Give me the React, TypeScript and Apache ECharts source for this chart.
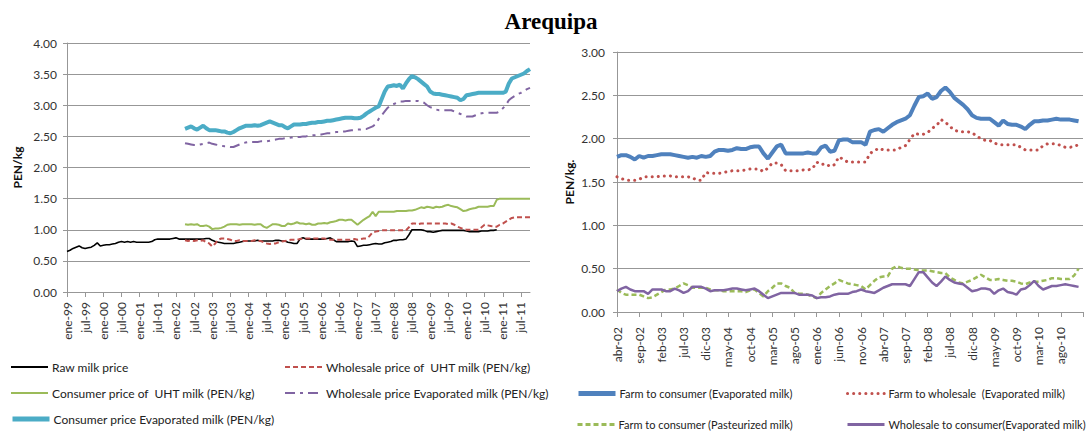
import React, { useEffect, useRef } from "react";
import * as echarts from "echarts";

const MONTHS = ["ene", "feb", "mar", "abr", "may", "jun", "jul", "ago", "sep", "oct", "nov", "dic"];

// Left chart: monthly, ene-99 .. oct-11 (154 months)
const LEFT_START_YEAR = 1999;
const LEFT_COUNT = 154;
// Right chart: monthly, abr-02 .. ene-11 (106 months)
const RIGHT_START_YEAR = 2002;
const RIGHT_START_MONTH = 3;
const RIGHT_COUNT = 106;

const N = null;
const pad = (n: number) => Array(n).fill(null);

// ---------- Left chart series (PEN/kg) ----------
const rawMilk = [
  0.65, 0.67, 0.70, 0.72, 0.74, 0.71, 0.70, 0.71, 0.72, 0.75, 0.79, 0.74, // 1999
  0.75, 0.76, 0.76, 0.77, 0.78, 0.80, 0.81, 0.80, 0.81, 0.80, 0.81, 0.80, // 2000
  0.80, 0.80, 0.80, 0.80, 0.81, 0.84, 0.85, 0.85, 0.85, 0.85, 0.85, 0.86, // 2001
  0.87, 0.85, 0.85, 0.85, 0.85, 0.85, 0.85, 0.85, 0.85, 0.85, 0.86, 0.86, // 2002
  0.83, 0.81, 0.80, 0.79, 0.78, 0.78, 0.78, 0.78, 0.79, 0.80, 0.81, 0.82, // 2003
  0.82, 0.82, 0.82, 0.83, 0.82, 0.82, 0.82, 0.82, 0.82, 0.83, 0.83, 0.82, // 2004
  0.82, 0.80, 0.79, 0.78, 0.78, 0.85, 0.87, 0.85, 0.85, 0.85, 0.85, 0.85, // 2005
  0.85, 0.85, 0.86, 0.87, 0.84, 0.81, 0.81, 0.81, 0.81, 0.81, 0.82, 0.81, // 2006
  0.73, 0.74, 0.75, 0.75, 0.76, 0.77, 0.78, 0.77, 0.77, 0.79, 0.80, 0.81, // 2007
  0.83, 0.83, 0.84, 0.84, 0.85, 0.92, 1.00, 1.00, 1.00, 1.00, 0.99, 0.97, // 2008
  0.97, 0.96, 0.97, 0.98, 0.99, 0.99, 0.99, 0.99, 0.99, 0.99, 0.99, 0.99, // 2009
  0.98, 0.97, 0.97, 0.97, 0.97, 0.98, 0.98, 0.98, 0.99, 0.99, 1.00, N,    // 2010
  N, N, N, N, N, N, N, N, N, N,                                           // 2011
];

const wholesaleUHT = [
  ...pad(36),
  N, N, N, 0.83, 0.82, 0.83, 0.82, 0.83, 0.82, 0.83, 0.80, 0.78,           // 2002
  0.73, 0.78, 0.84, 0.86, 0.86, 0.85, 0.84, 0.82, 0.82, 0.83, 0.82, 0.82, // 2003
  0.82, 0.82, 0.83, 0.82, 0.82, 0.80, 0.78, 0.77, 0.78, 0.78, 0.80, 0.81, // 2004
  0.82, 0.83, 0.84, 0.84, 0.84, 0.85, 0.86, 0.86, 0.86, 0.86, 0.86, 0.86, // 2005
  0.86, 0.86, 0.85, 0.84, 0.84, 0.84, 0.84, 0.84, 0.84, 0.84, 0.84, 0.85, // 2006
  0.84, 0.85, 0.86, 0.86, 0.90, 0.96, 0.97, 0.98, 0.99, 0.99, 0.99, 0.99, // 2007
  0.99, 0.99, 0.99, 0.99, 0.99, 1.04, 1.10, 1.10, 1.09, 1.10, 1.10, 1.10, // 2008
  1.10, 1.10, 1.10, 1.10, 1.10, 1.10, 1.09, 1.10, 1.08, 1.05, 1.03, 1.01, // 2009
  1.00, 1.00, 1.00, 1.00, 1.00, 1.04, 1.08, 1.07, 1.06, 1.05, 1.05, 1.08, // 2010
  1.10, 1.13, 1.16, 1.19, 1.20, 1.20, 1.20, 1.20, 1.20, 1.20,             // 2011
];

const consumerUHT = [
  ...pad(36),
  N, N, N, 1.09, 1.08, 1.09, 1.08, 1.09, 1.06, 1.06, 1.07, 1.05,           // 2002
  1.01, 1.02, 1.02, 1.03, 1.05, 1.08, 1.09, 1.09, 1.09, 1.08, 1.09, 1.09, // 2003
  1.09, 1.09, 1.08, 1.09, 1.09, 1.05, 1.03, 1.06, 1.09, 1.09, 1.08, 1.06, // 2004
  1.06, 1.10, 1.09, 1.10, 1.12, 1.10, 1.10, 1.09, 1.10, 1.08, 1.08, 1.10, // 2005
  1.10, 1.11, 1.10, 1.12, 1.13, 1.14, 1.16, 1.16, 1.15, 1.16, 1.16, 1.12, // 2006
  1.08, 1.12, 1.16, 1.19, 1.22, 1.29, 1.22, 1.29, 1.29, 1.29, 1.29, 1.29, // 2007
  1.29, 1.30, 1.30, 1.30, 1.30, 1.31, 1.31, 1.32, 1.34, 1.36, 1.35, 1.37, // 2008
  1.36, 1.35, 1.37, 1.36, 1.37, 1.39, 1.40, 1.38, 1.37, 1.36, 1.33, 1.30, // 2009
  1.31, 1.33, 1.34, 1.35, 1.37, 1.37, 1.37, 1.37, 1.38, 1.38, 1.48, 1.50, // 2010
  1.50, 1.50, 1.50, 1.50, 1.50, 1.50, 1.50, 1.50, 1.50, 1.50,             // 2011
];

const wholesaleEvap = [
  ...pad(36),
  N, N, N, 2.39, 2.38, 2.37, 2.36, 2.36, 2.37, 2.38, 2.39, 2.40,           // 2002
  2.38, 2.37, 2.36, 2.35, 2.34, 2.34, 2.33, 2.33, 2.35, 2.37, 2.39, 2.40, // 2003
  2.41, 2.41, 2.41, 2.41, 2.42, 2.42, 2.42, 2.43, 2.44, 2.45, 2.46, 2.46, // 2004
  2.47, 2.47, 2.48, 2.48, 2.49, 2.49, 2.50, 2.50, 2.51, 2.52, 2.52, 2.53, // 2005
  2.53, 2.54, 2.55, 2.55, 2.56, 2.57, 2.57, 2.58, 2.58, 2.59, 2.60, 2.60, // 2006
  2.61, 2.61, 2.62, 2.62, 2.64, 2.66, 2.70, 2.78, 2.84, 2.90, 2.96, 3.00, // 2007
  3.02, 3.04, 3.06, 3.06, 3.07, 3.07, 3.07, 3.07, 3.07, 3.06, 3.04, 3.00, // 2008
  2.97, 2.95, 2.93, 2.92, 2.92, 2.92, 2.92, 2.92, 2.90, 2.88, 2.86, 2.84, // 2009
  2.82, 2.82, 2.82, 2.84, 2.86, 2.87, 2.88, 2.88, 2.88, 2.88, 2.88, 2.90, // 2010
  2.95, 3.00, 3.08, 3.12, 3.15, 3.18, 3.20, 3.23, 3.26, 3.28,             // 2011
];

const consumerEvap = [
  ...pad(36),
  N, N, N, 2.62, 2.64, 2.66, 2.63, 2.61, 2.64, 2.67, 2.63, 2.60,           // 2002
  2.60, 2.60, 2.59, 2.58, 2.58, 2.56, 2.55, 2.57, 2.60, 2.63, 2.65, 2.67, // 2003
  2.67, 2.67, 2.68, 2.67, 2.68, 2.70, 2.72, 2.74, 2.72, 2.70, 2.68, 2.68, // 2004
  2.65, 2.63, 2.66, 2.69, 2.69, 2.69, 2.70, 2.70, 2.71, 2.72, 2.72, 2.73, // 2005
  2.73, 2.74, 2.75, 2.75, 2.76, 2.77, 2.78, 2.79, 2.80, 2.80, 2.80, 2.79, // 2006
  2.79, 2.80, 2.83, 2.87, 2.90, 2.93, 2.96, 2.98, 3.10, 3.22, 3.30, 3.31, // 2007
  3.32, 3.31, 3.33, 3.27, 3.35, 3.42, 3.47, 3.45, 3.42, 3.38, 3.34, 3.30, // 2008
  3.22, 3.19, 3.18, 3.18, 3.17, 3.16, 3.15, 3.14, 3.13, 3.12, 3.08, 3.10, // 2009
  3.16, 3.17, 3.18, 3.19, 3.20, 3.20, 3.20, 3.20, 3.20, 3.20, 3.20, 3.20, // 2010
  3.20, 3.22, 3.35, 3.43, 3.45, 3.47, 3.49, 3.51, 3.55, 3.58,             // 2011
];

// ---------- Right chart series (PEN/kg.), abr-02 onwards ----------
const farmToConsumerEvap = [
  1.79, 1.81, 1.81, 1.79, 1.76, 1.80, 1.78, 1.80, 1.80, 1.81,
  1.82, 1.82, 1.82, 1.81, 1.80, 1.79, 1.78, 1.79, 1.78, 1.80,
  1.79, 1.80, 1.85, 1.87, 1.87, 1.86, 1.87, 1.89, 1.88, 1.88,
  1.90, 1.91, 1.91, 1.83, 1.77, 1.84, 1.91, 1.93, 1.83, 1.83,
  1.83, 1.83, 1.83, 1.84, 1.83, 1.83, 1.90, 1.92, 1.85, 1.86,
  1.98, 1.99, 1.99, 1.96, 1.96, 1.96, 1.93, 2.08, 2.10, 2.11,
  2.08, 2.12, 2.16, 2.19, 2.21, 2.23, 2.27, 2.38, 2.48, 2.49,
  2.52, 2.46, 2.48, 2.55, 2.59, 2.54, 2.47, 2.43, 2.39, 2.34,
  2.27, 2.24, 2.23, 2.23, 2.23, 2.19, 2.15, 2.21, 2.17, 2.16,
  2.16, 2.14, 2.11, 2.16, 2.20, 2.20, 2.21, 2.21, 2.22, 2.23,
  2.22, 2.22, 2.22, 2.21, 2.20, N,
];

const farmToWholesaleEvap = [
  1.56, 1.54, 1.52, 1.52, 1.52, 1.53, 1.56, 1.56, 1.56, 1.56,
  1.57, 1.57, 1.57, 1.56, 1.56, 1.56, 1.56, 1.55, 1.52, 1.52,
  1.61, 1.60, 1.60, 1.60, 1.61, 1.62, 1.63, 1.63, 1.63, 1.64,
  1.65, 1.65, 1.65, 1.62, 1.66, 1.72, 1.72, 1.70, 1.63, 1.63,
  1.63, 1.63, 1.64, 1.64, 1.65, 1.73, 1.70, 1.71, 1.68, 1.70,
  1.79, 1.76, 1.73, 1.73, 1.73, 1.73, 1.73, 1.83, 1.86, 1.89,
  1.87, 1.87, 1.87, 1.87, 1.90, 1.92, 1.99, 2.06, 2.05, 2.05,
  2.07, 2.12, 2.15, 2.22, 2.19, 2.14, 2.10, 2.08, 2.08, 2.08,
  2.07, 2.03, 2.00, 1.98, 1.98, 1.95, 1.93, 1.93, 1.93, 1.93,
  1.93, 1.90, 1.87, 1.87, 1.87, 1.87, 1.92, 1.94, 1.94, 1.94,
  1.92, 1.90, 1.90, 1.91, 1.93, N,
];

const farmToConsumerPast = [
  0.26, 0.22, 0.20, 0.20, 0.20, 0.20, 0.18, 0.16, 0.17, 0.20,
  0.23, 0.26, 0.26, 0.27, 0.30, 0.33, 0.31, 0.28, 0.28, 0.28,
  0.28, 0.26, 0.25, 0.25, 0.24, 0.24, 0.24, 0.24, 0.24, 0.23,
  0.25, 0.26, 0.22, 0.18, 0.24, 0.28, 0.33, 0.33, 0.30, 0.28,
  0.22, 0.21, 0.21, 0.20, 0.18, 0.16, 0.22, 0.26, 0.30, 0.33,
  0.37, 0.35, 0.33, 0.32, 0.31, 0.30, 0.26, 0.31, 0.36, 0.40,
  0.41, 0.41, 0.50, 0.53, 0.51, 0.50, 0.50, 0.49, 0.48, 0.48,
  0.48, 0.47, 0.46, 0.45, 0.45, 0.40, 0.37, 0.34, 0.33, 0.35,
  0.37, 0.40, 0.43, 0.40, 0.37, 0.37, 0.38, 0.37, 0.36, 0.36,
  0.35, 0.33, 0.32, 0.34, 0.35, 0.35, 0.36, 0.37, 0.39, 0.39,
  0.38, 0.38, 0.38, 0.42, 0.50, N,
];

const wholesaleToConsumerEvap = [
  0.24, 0.27, 0.29, 0.26, 0.24, 0.24, 0.24, 0.21, 0.26, 0.26,
  0.26, 0.24, 0.24, 0.27, 0.25, 0.22, 0.24, 0.29, 0.29, 0.29,
  0.27, 0.24, 0.25, 0.25, 0.25, 0.26, 0.27, 0.27, 0.26, 0.25,
  0.26, 0.27, 0.24, 0.20, 0.16, 0.18, 0.20, 0.22, 0.22, 0.22,
  0.22, 0.20, 0.20, 0.20, 0.19, 0.16, 0.17, 0.17, 0.18, 0.20,
  0.21, 0.21, 0.21, 0.23, 0.24, 0.26, 0.24, 0.23, 0.22, 0.25,
  0.28, 0.30, 0.32, 0.32, 0.32, 0.32, 0.30, 0.38, 0.46, 0.46,
  0.40, 0.34, 0.30, 0.35, 0.41, 0.37, 0.34, 0.33, 0.32, 0.28,
  0.24, 0.25, 0.27, 0.27, 0.26, 0.21, 0.25, 0.27, 0.23, 0.22,
  0.20, 0.26, 0.27, 0.31, 0.36, 0.30, 0.26, 0.28, 0.30, 0.30,
  0.31, 0.32, 0.31, 0.30, 0.29, N,
];

const leftCategories = Array.from({ length: LEFT_COUNT }, (_, i) => {
  const y = LEFT_START_YEAR + Math.floor(i / 12);
  return MONTHS[i % 12] + "-" + String(y % 100).padStart(2, "0");
});
const rightCategories = Array.from({ length: RIGHT_COUNT }, (_, i) => {
  const k = RIGHT_START_MONTH + i;
  const y = RIGHT_START_YEAR + Math.floor(k / 12);
  return MONTHS[k % 12] + "-" + String(y % 100).padStart(2, "0");
});

const GRID_COLOR = "#979797";
const LABEL_COLOR = "#333";
const FONT = "Lato, 'Open Sans', sans-serif";

export default function App() {
  const ref = useRef<HTMLDivElement>(null);

  useEffect(() => {
    if (!ref.current) return;
    const chart = echarts.init(ref.current, null, { renderer: "svg" });

    const yAxisCommon = {
      type: "value" as const,
      min: 0,
      interval: 0.5,
      axisLine: { show: true, lineStyle: { color: GRID_COLOR, width: 1 } },
      axisTick: { show: true, length: 4, lineStyle: { color: GRID_COLOR } },
      splitLine: { show: true, lineStyle: { color: GRID_COLOR, width: 1 } },
      axisLabel: {
        formatter: (v: number) => v.toFixed(2),
        fontSize: 12,
        color: LABEL_COLOR,
        fontFamily: FONT,
        margin: 10,
      },
      nameLocation: "middle" as const,
      nameRotate: 90,
      nameTextStyle: { fontSize: 12, fontWeight: "bold" as const, color: "#111", fontFamily: FONT },
    };

    const xAxisCommon = {
      type: "category" as const,
      boundaryGap: false,
      axisLine: { show: true, lineStyle: { color: GRID_COLOR, width: 1 } },
      splitLine: { show: false },
    };

    const lineSeries = (name: string, data: any[], color: string, width: number, type: any, idx: number, cap = "butt") => ({
      name,
      type: "line" as const,
      data,
      xAxisIndex: idx,
      yAxisIndex: idx,
      symbol: "none",
      showSymbol: false,
      connectNulls: false,
      itemStyle: { color },
      lineStyle: { color, width, type, cap },
    });

    const legendItem = (name: string, left: number, top: number, width: number, fontSize: number, cap = "butt") => ({
      show: true,
      data: [name],
      left,
      top,
      orient: "horizontal" as const,
      itemWidth: 37,
      itemHeight: 10,
      padding: 0,
      selectedMode: false,
      itemStyle: { opacity: 0, borderWidth: 0 },
      lineStyle: { width, cap },
      textStyle: { fontSize, color: "#222", fontFamily: FONT, padding: [0, 0, 0, -1] },
    });

    chart.setOption({
      animation: false,
      backgroundColor: "#fff",
      title: {
        text: "Arequipa",
        left: 546,
        textAlign: "center",
        top: 5,
        textStyle: { fontFamily: "'Liberation Serif', 'Times New Roman', serif", fontWeight: "bold", fontSize: 23, color: "#000" },
      },
      grid: [
        { left: 67, top: 43, width: 463, height: 249 },
        { left: 617, top: 52, width: 466, height: 260 },
      ],
      xAxis: [
        {
          ...xAxisCommon,
          gridIndex: 0,
          data: leftCategories,
          axisTick: { show: true, interval: 5, length: 5, lineStyle: { color: GRID_COLOR } },
          axisLabel: { interval: 5, rotate: 90, fontSize: 12, color: LABEL_COLOR, fontFamily: FONT, margin: 10 },
        },
        {
          ...xAxisCommon,
          gridIndex: 1,
          data: rightCategories,
          axisTick: { show: true, interval: 4, length: 5, lineStyle: { color: GRID_COLOR } },
          axisLabel: {
            interval: (i: number) => i % 5 === 0 && i < RIGHT_COUNT - 1,
            rotate: 90,
            fontSize: 12,
            color: LABEL_COLOR,
            fontFamily: FONT,
            margin: 15,
          },
        },
      ],
      yAxis: [
        { ...yAxisCommon, gridIndex: 0, max: 4, name: "PEN/kg", nameGap: 44 },
        { ...yAxisCommon, gridIndex: 1, max: 3, name: "PEN/kg.", nameGap: 42, axisLabel: { ...yAxisCommon.axisLabel, margin: 12 } },
      ],
      legend: [
        legendItem("Raw milk price", 10, 361, 2, 12),
        legendItem("Consumer price of  UHT milk (PEN/kg)", 10, 387, 2, 12),
        legendItem("Consumer price Evaporated milk (PEN/kg)", 10, 413, 5, 12),
        legendItem("Wholesale price of  UHT milk (PEN/kg)", 284, 361, 2, 12),
        legendItem("Wholesale price Evaporated milk (PEN/kg)", 284, 387, 2, 12),
        legendItem("Farm to consumer (Evaporated milk)", 576, 388, 5, 11),
        legendItem("Farm to consumer (Pasteurized milk)", 576, 419, 3, 11),
        legendItem("Farm to wholesale  (Evaporated milk)", 846, 388, 3, 11, "round"),
        legendItem("Wholesale to consumer(Evaporated milk)", 846, 419, 3, 11),
      ],
      series: [
        lineSeries("Raw milk price", rawMilk, "#000000", 1.6, "solid", 0),
        lineSeries("Wholesale price of  UHT milk (PEN/kg)", wholesaleUHT, "#C0504D", 2, [5, 3], 0),
        lineSeries("Consumer price of  UHT milk (PEN/kg)", consumerUHT, "#9BBB59", 2, "solid", 0),
        lineSeries("Wholesale price Evaporated milk (PEN/kg)", wholesaleEvap, "#8064A2", 2, [10, 5, 3, 5], 0),
        lineSeries("Consumer price Evaporated milk (PEN/kg)", consumerEvap, "#4BACC6", 4, "solid", 0),
        lineSeries("Farm to consumer (Evaporated milk)", farmToConsumerEvap, "#4F81BD", 4, "solid", 1),
        lineSeries("Farm to wholesale  (Evaporated milk)", farmToWholesaleEvap, "#C0504D", 3, [0.1, 6], 1, "round"),
        lineSeries("Farm to consumer (Pasteurized milk)", farmToConsumerPast, "#9BBB59", 2.5, [5, 3], 1),
        lineSeries("Wholesale to consumer(Evaporated milk)", wholesaleToConsumerEvap, "#8064A2", 2.5, "solid", 1),
      ],
    });

    return () => chart.dispose();
  }, []);

  return (
    <div
      ref={ref}
      style={{ position: "absolute", left: 0, top: 0, width: 1092, height: 437, background: "#fff" }}
    />
  );
}
